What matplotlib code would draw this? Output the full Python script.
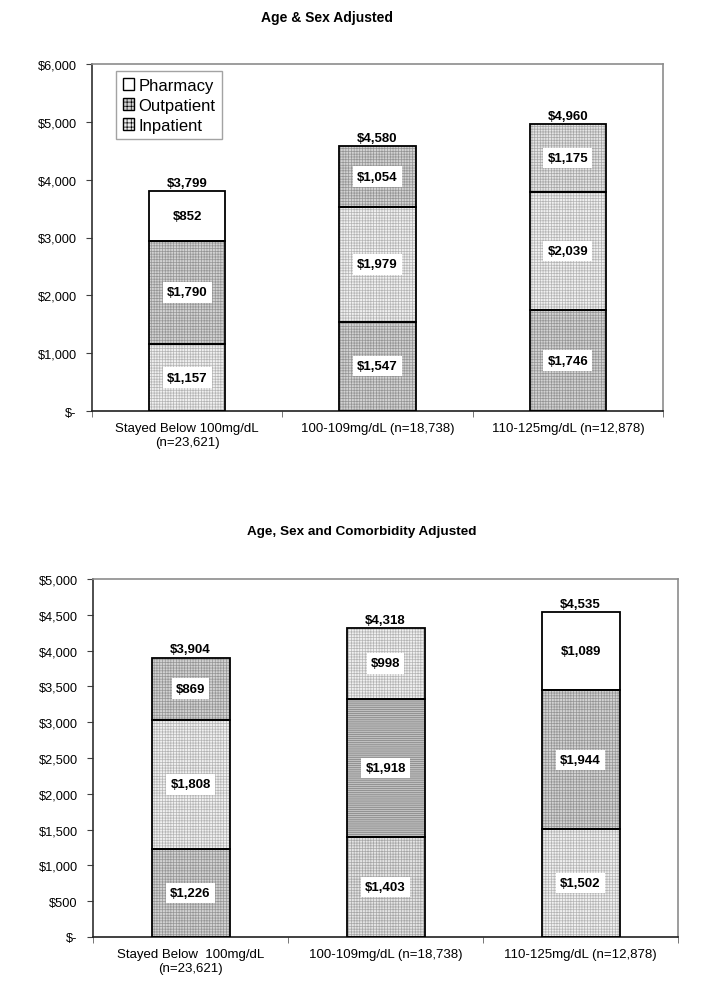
import matplotlib.pyplot as plt
import matplotlib.patches as mpatches
import numpy as np

plt.rcParams['font.family'] = ['Liberation Sans', 'DejaVu Sans']
plt.rcParams['hatch.linewidth'] = 0.5

# ---- data ----
cats_top = ['Stayed Below 100mg/dL\n(n=23,621)', '100-109mg/dL (n=18,738)', '110-125mg/dL (n=12,878)']
cats_bottom = ['Stayed Below  100mg/dL\n(n=23,621)', '100-109mg/dL (n=18,738)', '110-125mg/dL (n=12,878)']

inpatient_top = [1157, 1547, 1746]
outpatient_top = [1790, 1979, 2039]
pharmacy_top = [852, 1054, 1175]
totals_top = [3799, 4580, 4960]

inpatient_bottom = [1226, 1403, 1502]
outpatient_bottom = [1808, 1918, 1944]
pharmacy_bottom = [869, 998, 1089]
totals_bottom = [3904, 4318, 4535]

# fill styles (face, hatch, hatch colour)
WHITE = ('white', None, 'white')
LIGHT = ('#f0f0f0', '++++++', '#b4b4b4')
DARK = ('#d2d2d2', '++++++', '#959595')
MED = ('#e4e4e4', '++++++', '#a6a6a6')
LINES = ('#c0c0c0', '--------', '#808080')

# the original chart has inconsistent fills per segment; reproduce them
styles_top = [[LIGHT, DARK, WHITE], [DARK, LIGHT, DARK], [DARK, LIGHT, MED]]
styles_bottom = [[DARK, LIGHT, DARK], [MED, LINES, LIGHT], [LIGHT, DARK, WHITE]]


def money(v, pos=None):
    if v == 0:
        return '$-'
    return '${:,.0f}'.format(v)


def draw_panel(ax, cats, layers, totals, styles, ymax, ystep):
    x = np.arange(len(cats))
    bottom = np.zeros(len(cats))
    for li, vals in enumerate(layers):
        vals = np.array(vals, dtype=float)
        for i in range(len(cats)):
            face, hatch, hcol = styles[i][li]
            ax.bar(x[i], vals[i], 0.4, bottom=bottom[i], color=face, hatch=hatch,
                   edgecolor=hcol, linewidth=0, zorder=2)
            ax.bar(x[i], vals[i], 0.4, bottom=bottom[i], fill=False,
                   edgecolor='black', linewidth=1.3, zorder=3)
            ax.text(x[i], bottom[i] + vals[i] / 2, money(vals[i]), ha='center', va='center',
                    fontsize=9.5, fontweight='bold', zorder=4,
                    bbox=dict(facecolor='white', edgecolor='none', pad=3))
        bottom += vals
    for i in range(len(cats)):
        ax.text(x[i], bottom[i] + ymax * 0.006, money(totals[i]), ha='center', va='bottom',
                fontsize=9.5, fontweight='bold', zorder=4)

    ax.set_xlim(-0.5, len(cats) - 0.5)
    ax.set_ylim(0, ymax)
    ax.set_yticks(np.arange(0, ymax + 1, ystep))
    ax.yaxis.set_major_formatter(plt.FuncFormatter(money))
    ax.set_xticks(x)
    ax.set_xticklabels(cats, fontsize=9.5)
    ax.set_xticks(np.arange(-0.5, len(cats), 1.0), minor=True)
    ax.tick_params(axis='x', which='major', length=0, pad=8)
    ax.tick_params(axis='x', which='minor', length=4, color='#606060')
    ax.tick_params(axis='y', length=4, pad=7, labelsize=9.2, color='#404040')
    ax.spines['top'].set_color('#8c8c8c')
    ax.spines['right'].set_color('#8c8c8c')
    ax.spines['left'].set_color('#303030')
    ax.spines['bottom'].set_color('#202020')
    for s in ax.spines.values():
        s.set_linewidth(1.2)


fig = plt.figure(figsize=(7.08, 9.95), dpi=100)

ax1 = fig.add_axes([92 / 708, 1 - 412 / 995, 571 / 708, 347 / 995])
draw_panel(ax1, cats_top, [inpatient_top, outpatient_top, pharmacy_top], totals_top,
           styles_top, 6000, 1000)
fig.text(327 / 708, 1 - 18 / 995, 'Age & Sex Adjusted', ha='center', va='center',
         fontsize=10, fontweight='bold')

handles = [mpatches.Patch(facecolor=WHITE[0], edgecolor='black', label='Pharmacy'),
           mpatches.Patch(facecolor=DARK[0], hatch='++++', edgecolor='black', label='Outpatient'),
           mpatches.Patch(facecolor=LIGHT[0], hatch='++++', edgecolor='black', label='Inpatient')]
leg = ax1.legend(handles=handles, loc='upper left', bbox_to_anchor=(0.042, 0.98),
                 fontsize=12, frameon=True, fancybox=False, edgecolor='#8c8c8c',
                 handlelength=0.7, handleheight=0.7, handletextpad=0.25,
                 borderaxespad=0, labelspacing=0.3, borderpad=0.4)
leg.get_frame().set_linewidth(1.0)

ax2 = fig.add_axes([93 / 708, 1 - 938 / 995, 585 / 708, 358 / 995])
draw_panel(ax2, cats_bottom, [inpatient_bottom, outpatient_bottom, pharmacy_bottom],
           totals_bottom, styles_bottom, 5000, 500)
fig.text(362 / 708, 1 - 532 / 995, 'Age, Sex and Comorbidity Adjusted', ha='center', va='center',
         fontsize=9.7, fontweight='bold')

fig.savefig('out.png', dpi=100)
